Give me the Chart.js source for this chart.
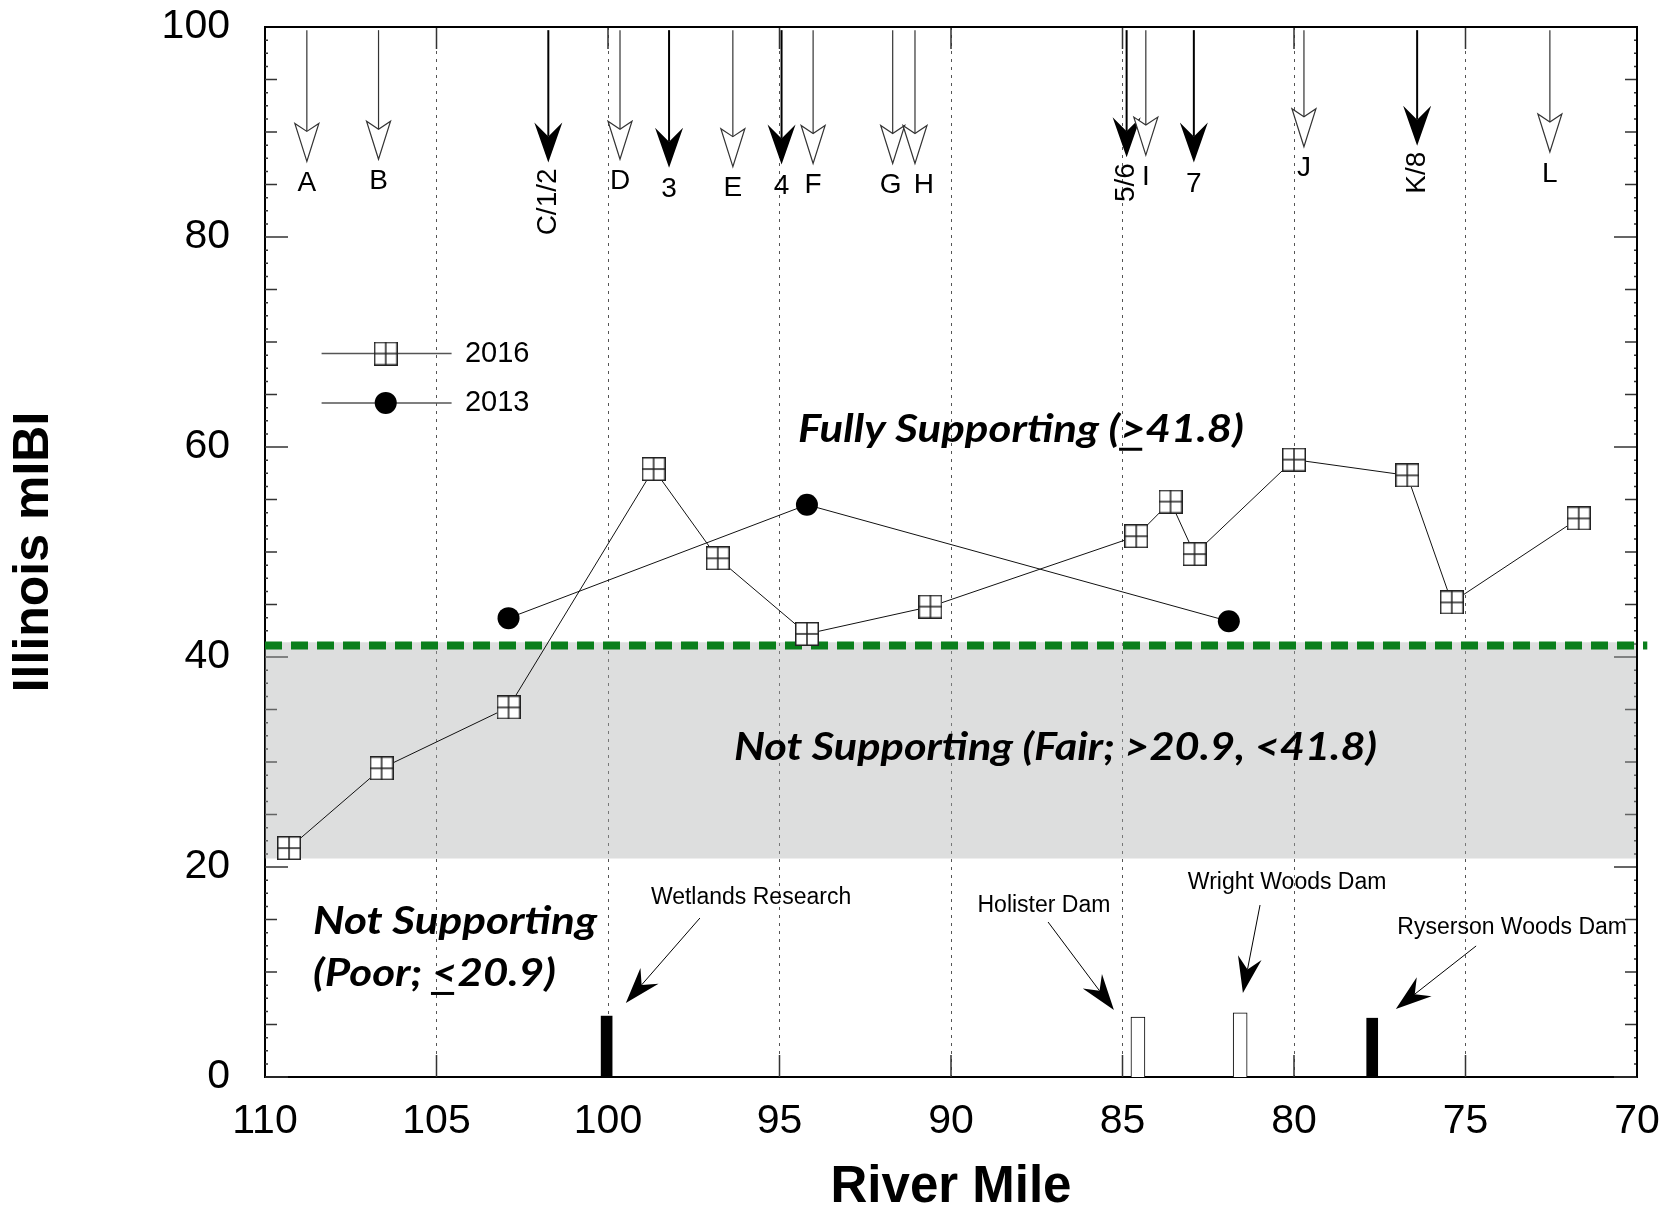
<!DOCTYPE html>
<html>
<head>
<meta charset="utf-8">
<title>Illinois mIBI by river mile</title>
<script src="https://cdn.jsdelivr.net/npm/chart.js@4.4.1/dist/chart.umd.min.js"></script>
<style>
  html, body { margin: 0; padding: 0; background: #fff; }
  #wrap { width: 1677px; height: 1210px; }
</style>
</head>
<body>
<div id="wrap"><canvas id="myChart" width="1677" height="1210"></canvas></div>
<script>
// 2016 survey: river mile and mIBI score
const miles2016 = [109.3, 106.6, 102.9, 98.67, 96.8, 94.2, 90.6, 84.6, 83.6, 82.9, 80.0, 76.7, 75.4, 71.7];
const mibi2016 = [21.8, 29.4, 35.2, 57.9, 49.4, 42.2, 44.8, 51.5, 54.8, 49.8, 58.8, 57.3, 45.2, 53.2];

// 2013 survey
const miles2013 = [102.9, 94.2, 81.9];
const mibi2013 = [43.7, 54.5, 43.4];

// sampling sites shown as arrows along the top
const siteLabels = ['A', 'B', 'C/1/2', 'D', '3', 'E', '4', 'F', 'G', 'H', '5/6', 'I', '7', 'J', 'K/8', 'L'];
const siteMiles = [108.78, 106.69, 101.74, 99.65, 98.22, 96.36, 94.94, 94.02, 91.70, 91.05, 84.88, 84.32, 82.92, 79.71, 76.41, 72.54];
const siteFilled = [false, false, true, false, true, false, true, false, false, false, true, false, true, false, true, false];
const siteTips = [87.2, 87.4, 87.1, 87.4, 86.6, 86.7, 86.9, 87.0, 87.0, 87.0, 87.6, 87.8, 87.1, 88.6, 88.7, 88.1];

// dams along the river
const damNames = ['Wetlands Research', 'Holister Dam', 'Wright Woods Dam', 'Ryserson Woods Dam'];
const damMiles = [100.04, 84.55, 81.57, 77.72];
const damHeights = [5.8, 5.7, 6.1, 5.6];
const damFilled = [true, false, false, true];

// support thresholds as drawn
const fullLine = 41.1;
const fairTop = 41.4;
const fairBottom = 20.8;

// axis ticks
const xTickValues = [110, 105, 100, 95, 90, 85, 80, 75, 70];
const yTickValues = [0, 20, 40, 60, 80, 100];

// ---- text notes, placed in data units (mile, mIBI) ----
const zoneNotes = [
  { text: 'Fully Supporting (>41.8)', mark: '>', from: 94.46, to: 81.46, base: 60.5 },
  { text: 'Not Supporting (Fair; >20.9, <41.8)', mark: null, from: 96.33, to: 77.58, base: 30.19 },
  { text: 'Not Supporting', mark: null, from: 108.6, to: 100.32, base: 13.62 },
  { text: '(Poor; <20.9)', mark: '<', from: 108.6, to: 101.52, base: 8.67 }
];
const damNotes = [
  { tx: 95.83, ty: 17.05, fx: 97.32, fy: 15.14, hx: 99.48, hy: 7.05 },
  { tx: 87.29, ty: 16.29, fx: 87.17, fy: 14.76, hx: 85.25, hy: 6.38 },
  { tx: 80.20, ty: 18.48, fx: 80.99, fy: 16.38, hx: 81.49, hy: 8.0 },
  { tx: 73.64, ty: 14.19, fx: 74.69, fy: 12.48, hx: 77.03, hy: 6.48 }
];
const legendRows = [
  { label: '2016', v: 68.9, marker: 'square' },
  { label: '2013', v: 64.2, marker: 'circle' }
];
// small sideways nudges of a few site letters, in px
const labelNudge = { G: -2, H: 9 };

const sans = "'Liberation Sans', Arial, sans-serif";
const noteFont = "Lato, 'Open Sans', sans-serif";

// square with a cross inside, used as the 2016 marker
const squareMarker = (() => {
  const s = 24;
  const c = document.createElement('canvas');
  c.width = s; c.height = s;
  const g = c.getContext('2d');
  g.fillStyle = '#fff';
  g.fillRect(0, 0, s, s);
  g.strokeStyle = '#222';
  g.lineWidth = 1.5;
  g.strokeRect(0.75, 0.75, s - 1.5, s - 1.5);
  g.beginPath();
  g.moveTo(s / 2, 0); g.lineTo(s / 2, s);
  g.moveTo(0, s / 2); g.lineTo(s, s / 2);
  g.stroke();
  return c;
})();

function arrowHead(ctx, x1, y1, x2, y2, len, half, notch, filled) {
  const ang = Math.atan2(y2 - y1, x2 - x1);
  const c = Math.cos(ang), s = Math.sin(ang);
  const pt = (along, side) => [x2 - along * c - side * s, y2 - along * s + side * c];
  const nb = pt(notch, 0);
  ctx.beginPath();
  ctx.moveTo(x1, y1);
  ctx.lineTo(nb[0], nb[1]);
  ctx.stroke();
  const w1 = pt(len, half), w2 = pt(len, -half);
  ctx.beginPath();
  ctx.moveTo(x2, y2);
  ctx.lineTo(w1[0], w1[1]);
  ctx.lineTo(nb[0], nb[1]);
  ctx.lineTo(w2[0], w2[1]);
  ctx.closePath();
  if (filled) {
    ctx.fill();
  } else {
    ctx.fillStyle = '#fff';
    ctx.fill();
    ctx.stroke();
  }
}

const decorations = {
  id: 'decorations',
  // tick marks go under the data so bars and markers cover them
  beforeDatasetsDraw(chart) {
    const { ctx, chartArea: a, scales: { x, y } } = chart;
    ctx.save();
    ctx.strokeStyle = '#333';
    ctx.lineWidth = 1.5;
    for (let v = 0; v <= 100; v += 1.25) {
      const py = y.getPixelForValue(v);
      const len = v % 20 === 0 ? 23 : (v % 5 === 0 ? 12 : 3);
      ctx.beginPath();
      ctx.moveTo(a.left, py); ctx.lineTo(a.left + len, py);
      ctx.moveTo(a.right, py); ctx.lineTo(a.right - len, py);
      ctx.stroke();
    }
    xTickValues.forEach(v => {
      if (v === 110 || v === 70) return;
      const px = x.getPixelForValue(v);
      ctx.beginPath();
      ctx.moveTo(px, a.bottom); ctx.lineTo(px, a.bottom - 22);
      ctx.moveTo(px, a.top); ctx.lineTo(px, a.top + 22);
      ctx.stroke();
    });
    ctx.restore();
  },
  afterDraw(chart) {
    const { ctx, chartArea: a, scales: { x, y } } = chart;
    ctx.save();

    // top and right frame
    ctx.strokeStyle = '#000';
    ctx.lineWidth = 2;
    ctx.beginPath();
    ctx.moveTo(a.left, a.top);
    ctx.lineTo(a.right, a.top);
    ctx.lineTo(a.right, a.bottom);
    ctx.stroke();

    // sampling site arrows
    const shaftTop = y.getPixelForValue(99.7);
    siteMiles.forEach((m, i) => {
      const px = x.getPixelForValue(m);
      const tip = y.getPixelForValue(siteTips[i]);
      const filled = siteFilled[i];
      ctx.strokeStyle = filled ? '#000' : '#333';
      ctx.fillStyle = '#000';
      ctx.lineWidth = filled ? 2 : 1.2;
      if (filled) arrowHead(ctx, px, shaftTop, px, tip, 40, 14, 26, true);
      else arrowHead(ctx, px, shaftTop, px, tip, 38, 12, 30, false);

      const label = siteLabels[i];
      ctx.fillStyle = '#000';
      ctx.font = '28px ' + sans;
      if (label.includes('/')) {
        ctx.save();
        ctx.translate(px, tip + 6);
        ctx.rotate(-Math.PI / 2);
        ctx.textAlign = 'right';
        ctx.textBaseline = 'middle';
        ctx.fillText(label, 0, 0);
        ctx.restore();
      } else {
        ctx.textAlign = 'center';
        ctx.textBaseline = 'middle';
        ctx.fillText(label, px + (labelNudge[label] || 0), tip + 22);
      }
    });

    // dam labels with arrows
    ctx.font = '23px ' + sans;
    ctx.textAlign = 'center';
    ctx.textBaseline = 'middle';
    damNotes.forEach((d, i) => {
      ctx.fillStyle = '#000';
      ctx.fillText(damNames[i], x.getPixelForValue(d.tx), y.getPixelForValue(d.ty));
      ctx.strokeStyle = '#000';
      ctx.lineWidth = 1;
      arrowHead(ctx, x.getPixelForValue(d.fx), y.getPixelForValue(d.fy),
        x.getPixelForValue(d.hx), y.getPixelForValue(d.hy), 36, 12, 24, true);
    });

    // zone notes, stretched to the width they take in the original
    ctx.font = 'italic bold 39px ' + noteFont;
    ctx.textAlign = 'left';
    ctx.textBaseline = 'alphabetic';
    ctx.fillStyle = '#000';
    zoneNotes.forEach(n => {
      const left = x.getPixelForValue(n.from);
      const right = x.getPixelForValue(n.to);
      const base = y.getPixelForValue(n.base);
      const w = ctx.measureText(n.text).width;
      const sx = (right - left) / w;
      ctx.save();
      ctx.translate(left, base);
      ctx.scale(sx, 1);
      ctx.fillText(n.text, 0, 0);
      if (n.mark) {
        const idx = n.text.indexOf(n.mark);
        const x0 = ctx.measureText(n.text.slice(0, idx)).width;
        const cw = ctx.measureText(n.mark).width;
        ctx.fillRect(x0 - 1, 6, cw - 2, 3);
      }
      ctx.restore();
    });

    // legend
    legendRows.forEach(r => {
      const py = y.getPixelForValue(r.v);
      ctx.strokeStyle = '#555';
      ctx.lineWidth = 1.5;
      ctx.beginPath();
      ctx.moveTo(x.getPixelForValue(108.35), py);
      ctx.lineTo(x.getPixelForValue(104.56), py);
      ctx.stroke();
      const mx = x.getPixelForValue(106.48);
      if (r.marker === 'square') {
        ctx.drawImage(squareMarker, mx - squareMarker.width / 2, py - squareMarker.height / 2);
      } else {
        ctx.fillStyle = '#000';
        ctx.beginPath();
        ctx.arc(mx, py, 11, 0, Math.PI * 2);
        ctx.fill();
      }
      ctx.fillStyle = '#000';
      ctx.font = '29px ' + sans;
      ctx.textAlign = 'left';
      ctx.textBaseline = 'middle';
      ctx.fillText(r.label, x.getPixelForValue(104.17), py);
    });

    ctx.restore();
  }
};

const points = (xs, ys) => xs.map((m, i) => ({ x: m, y: ys[i] }));
const dams = filled => damMiles
  .map((m, i) => ({ x: m, y: damHeights[i], f: damFilled[i] }))
  .filter(d => d.f === filled);

const config = {
  type: 'line',
  data: {
    datasets: [
      {
        label: '2016',
        data: points(miles2016, mibi2016),
        borderColor: '#111',
        borderWidth: 1,
        pointStyle: squareMarker,
        pointRadius: 12,
        tension: 0,
        order: 0
      },
      {
        label: '2013',
        data: points(miles2013, mibi2013),
        borderColor: '#111',
        borderWidth: 1,
        pointStyle: 'circle',
        pointRadius: 11,
        pointBackgroundColor: '#000',
        pointBorderWidth: 0,
        tension: 0,
        order: 1
      },
      {
        type: 'bar',
        label: 'Dams (filled)',
        data: dams(true),
        backgroundColor: '#000',
        borderWidth: 0,
        barThickness: 11,
        grouped: false,
        order: 2
      },
      {
        type: 'bar',
        label: 'Dams (open)',
        data: dams(false),
        backgroundColor: '#fff',
        borderColor: '#000',
        borderWidth: 1,
        barThickness: 14,
        grouped: false,
        order: 2
      },
      {
        label: 'Fully supporting',
        data: [{ x: 110, y: fullLine }, { x: 69.7, y: fullLine }],
        borderColor: '#0b7f1c',
        borderWidth: 8,
        borderDash: [17, 9],
        pointRadius: 0,
        clip: false,
        order: 3
      },
      {
        // translucent so the dotted grid shows through, as in the original
        label: 'Fair band',
        data: [{ x: 110, y: fairTop }, { x: 70, y: fairTop }],
        borderColor: 'rgba(0,0,0,0)',
        borderWidth: 0,
        pointRadius: 0,
        fill: { value: fairBottom },
        backgroundColor: 'rgba(170,173,173,0.4)',
        order: 4
      }
    ]
  },
  options: {
    responsive: false,
    animation: false,
    devicePixelRatio: 1,
    layout: { padding: { left: 0, right: 40, top: 27, bottom: 0 } },
    plugins: { legend: { display: false }, tooltip: { enabled: false }, title: { display: false } },
    scales: {
      x: {
        type: 'linear',
        reverse: true,
        min: 70,
        max: 110,
        offset: false,
        afterBuildTicks: s => { s.ticks = xTickValues.map(v => ({ value: v })); },
        afterFit: s => { s.height = 133; s.paddingLeft = 0; s.paddingRight = 0; },
        ticks: { font: { family: sans, size: 41 }, color: '#000', padding: 20, maxRotation: 0, autoSkip: false },
        grid: {
          offset: false,
          drawTicks: false,
          lineWidth: 1,
          color: c => (c.tick && (c.tick.value === 110 || c.tick.value === 70)) ? 'rgba(0,0,0,0)' : '#555'
        },
        border: { display: true, color: '#000', width: 2, dash: [3, 5] },
        title: {
          display: true,
          text: 'River Mile',
          color: '#000',
          font: { family: sans, size: 51, weight: 'bold', lineHeight: 1 },
          padding: { top: 0, bottom: -3 }
        }
      },
      y: {
        min: 0,
        max: 100,
        afterBuildTicks: s => { s.ticks = yTickValues.map(v => ({ value: v })); },
        afterFit: s => { s.width = 265; s.paddingTop = 0; s.paddingBottom = 0; },
        ticks: { font: { family: sans, size: 41 }, color: '#000', padding: 35 },
        grid: { display: false, drawTicks: false },
        border: { display: true, color: '#000', width: 2 },
        title: {
          display: true,
          text: 'Illinois mIBI',
          color: '#000',
          font: { family: sans, size: 50, weight: 'bold', lineHeight: 1.2 },
          padding: { top: 4, bottom: 0 }
        }
      }
    }
  },
  plugins: [decorations]
};

Promise.all([
  document.fonts.load('italic bold 39px Lato'),
  document.fonts.load('28px "Liberation Sans"')
]).catch(() => {}).then(() => {
  new Chart(document.getElementById('myChart'), config);
});
</script>
</body>
</html>
